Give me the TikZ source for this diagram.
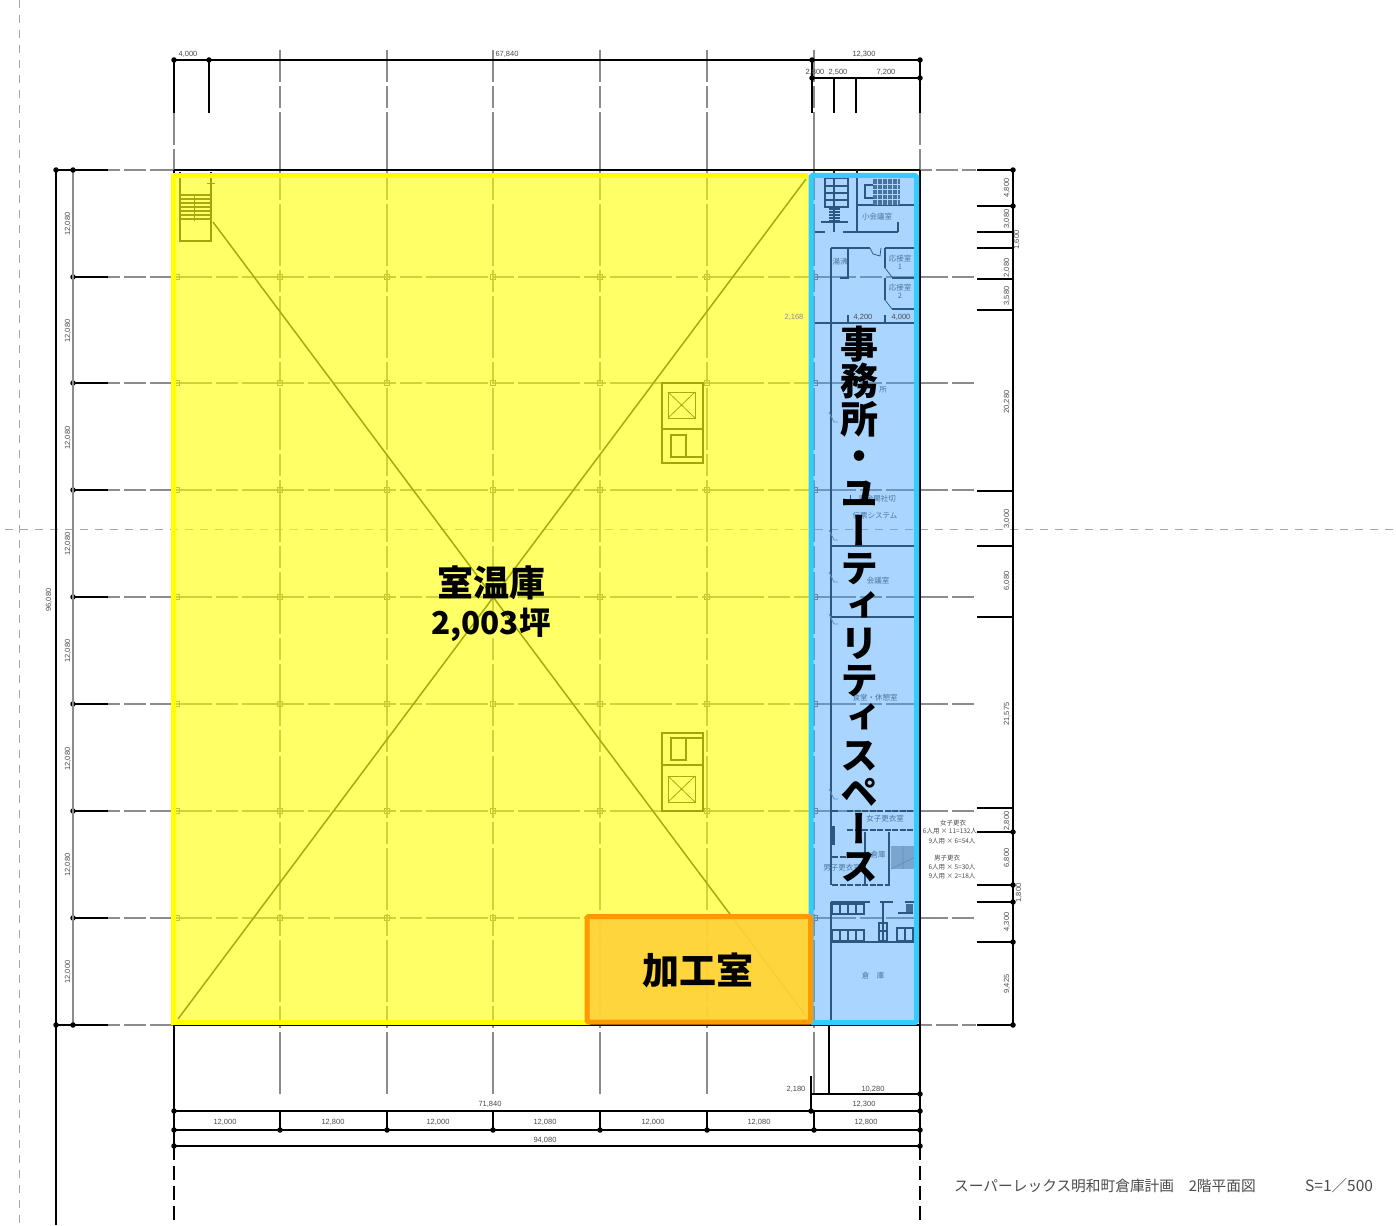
\documentclass[tikz,border=0pt]{standalone}
\usepackage{fontspec}
\setmainfont{Noto Sans CJK JP}
\newfontfamily\cjkv[RawFeature={+vert}]{Noto Sans CJK JP}
\newfontfamily\latn{Liberation Sans}
\definecolor{dimtext}{gray}{0.3}
\definecolor{gridg}{gray}{0.55}
\definecolor{yellowfill}{RGB}{255,255,0}
\definecolor{bluefill}{RGB}{67,164,255}
\definecolor{blueedge}{RGB}{51,204,255}
\definecolor{orangeedge}{RGB}{255,153,0}
\definecolor{orangefill}{RGB}{255,210,60}
\tikzset{
  dimline/.style={black,line width=1.5pt},
  colgrid/.style={gridg,line width=1.2pt,dash pattern=on 62pt off 4pt on 22pt off 4pt,dash phase=30pt},
  rowgrid/.style={gridg,line width=1.2pt,dash pattern=on 62pt off 4pt on 22pt off 4pt,dash phase=50pt},
  centerline/.style={gray!70,line width=1pt,dash pattern=on 8pt off 7pt},
  wall/.style={black!90,line width=1.4pt},
  thinwall/.style={black!85,line width=0.8pt},
  dimdot/.style={black,fill=black,circle,inner sep=0pt,minimum size=5.5pt},
  gridmark/.style={black!55,line width=0.8pt},
  dimlabel/.style={text=dimtext,inner sep=0pt,font=\latn\fontsize{7.5}{8}\selectfont},
  vdimlabel/.style={dimlabel,rotate=90},
  roomlabel/.style={text=dimtext,inner sep=0pt,font=\fontsize{7.5}{8}\selectfont},
  notelabel/.style={text=dimtext,inner sep=0pt,font=\fontsize{6.5}{7}\selectfont},
  mainlabel/.style={text=black,inner sep=0pt,align=center,font=\bfseries\fontsize{36}{40}\selectfont},
}
\begin{document}
\begin{tikzpicture}[x=1pt,y=-1pt]
\useasboundingbox (0,0) rectangle (1396,1225);
\fill[white] (0,0) rectangle (1396,1225);
% centre lines
\draw[centerline] (5,529) -- (1396,529);
\draw[centerline] (19,0) -- (19,1225);
% grid columns
\foreach \x in {280,387,493,600,707,814}{
  \draw[colgrid] (\x,50) -- (\x,1095);
}
\draw[colgrid] (174,113) -- (174,170);
\draw[colgrid] (920,113) -- (920,170);
% grid rows
\foreach \y in {277,383,490,597,704,811,918}{
  \draw[rowgrid] (108,\y) -- (976,\y);
}
\foreach \y in {277,383,490,597,704,811,918}{
  \draw[dimline] (73,\y) -- (108,\y);
  \node[dimdot] (ld\y) at (73,\y) {};
  \foreach \x in {280,387,493,600,707}{
    \draw[gridmark] (\x-2.5,\y-2.5) rectangle (\x+2.5,\y+2.5);
  }
  \draw[gridmark] (174,\y-2.5) rectangle (179,\y+2.5);
  \draw[gridmark] (812,\y-2.5) rectangle (817,\y+2.5);
}
% outer frame
\draw[dimline] (56,170) -- (108,170);
\draw[dimline] (56,1025) -- (108,1025);
\draw[rowgrid] (108,170) -- (174,170);
\draw[rowgrid] (108,1025) -- (174,1025);
\draw[dimline] (174,170) -- (920,170);
\draw[dimline] (174,1025) -- (920,1025);
\draw[rowgrid] (920,170) -- (976,170);
\draw[rowgrid] (920,1025) -- (976,1025);
\draw[dimline,line width=1.6pt] (920,60) -- (920,113);
\draw[dimline] (920,170) -- (920,1146);
\draw[dimline] (174,60) -- (174,113);
\draw[dimline] (174,170) -- (174,1146);
\draw[dimline,dash pattern=on 14pt off 6pt] (174,1146) -- (174,1225);
\draw[dimline,dash pattern=on 14pt off 6pt] (920,1146) -- (920,1225);
% left dimensions
\draw[dimline] (56,170) -- (56,1225);
\draw[black!45,line width=2pt] (73,170) -- (73,1025);
\node[dimdot] (ltl) at (56,170) {};
\node[dimdot] (lt2) at (73,170) {};
\node[dimdot] (lbl) at (56,1025) {};
\node[dimdot] (lb2) at (73,1025) {};
% top dimensions
\draw[dimline] (174,60) -- (920,60);
\draw[dimline] (812,78) -- (920,78);
\draw[dimline] (209,60) -- (209,113);
\draw[dimline] (812,60) -- (812,113);
\draw[dimline] (834,78) -- (834,113);
\draw[dimline] (856,78) -- (856,113);
\foreach \n/\x/\y in {a/174/60,b/209/60,c/812/60,d/920/60,e/812/78,f/920/78}{
  \node[dimdot] (top\n) at (\x,\y) {};
}
% right dimensions
\draw[dimline] (1013,170) -- (1013,1025);
\foreach \y in {170,206,232,248,279,310,491,546,617,808,832,885,902,942,1025}{
  \draw[dimline] (977,\y) -- (1013,\y);
}
\foreach \y in {170,206,832,885,902,942,1025}{
  \node[dimdot] (rd\y) at (1013,\y) {};
}
% bottom dimensions
\draw[dimline] (174,1111) -- (920,1111);
\draw[dimline] (174,1130) -- (920,1130);
\draw[dimline] (174,1146) -- (920,1146);
\draw[dimline] (811,1094) -- (920,1094);
\draw[dimline] (811,1076) -- (811,1111);
\draw[dimline] (829,1025) -- (829,1094);
\foreach \x in {280,387,493,600,707,814}{
  \draw[dimline] (\x,1111) -- (\x,1130);
  \node[dimdot] (bd\x) at (\x,1130) {};
}
\foreach \n/\x/\y in {a/174/1111,b/174/1130,c/174/1146,d/920/1094,e/920/1111,f/920/1130,g/920/1146,h/811/1111}{
  \node[dimdot] (bot\n) at (\x,\y) {};
}
% big X
\draw[black!85,line width=1.5pt] (178,1019) -- (806,179);
\draw[black!85,line width=1.5pt] (213,222) -- (809,1020);
% stairs top left
\draw[wall] (180,172) -- (180,241) -- (211,241) -- (211,172);
\foreach \y in {195,199,203,207,211,215,219}{\draw[thinwall,line width=1.4pt] (180,\y) -- (211,\y);}
\draw[thinwall] (194,195) -- (194,221);
\draw[thinwall] (207,183) -- (215,183);
% elevators
\draw[wall,line width=1.7pt] (662,383) rectangle (703,463);
\draw[wall,line width=1.7pt] (662,429) -- (703,429);
\draw[thinwall] (668,392) rectangle (695,418);
\draw[thinwall] (668,392) -- (695,418) (668,418) -- (695,392);
\draw[wall,line width=2.4pt] (671,435) rectangle (686,457);
\draw[wall] (686,457) -- (703,457);
\draw[wall,line width=1.7pt] (662,733) rectangle (703,811);
\draw[wall,line width=1.7pt] (662,765) -- (703,765);
\draw[thinwall] (668,776) rectangle (695,802);
\draw[thinwall] (668,776) -- (695,802) (668,802) -- (695,776);
\draw[wall,line width=2.4pt] (671,738) rectangle (686,760);
\draw[wall] (686,738) -- (703,738);
% office plan: top
\draw[wall] (834,170) -- (834,232);
\draw[wall] (825,178) rectangle (848,207);
\foreach \y in {186,193,200}{\draw[wall] (825,\y) -- (848,\y);}
\foreach \y in {209,212,215,218,221}{\draw[wall] (829,\y) -- (840,\y);}
\draw[wall] (821,222) -- (848,222);
\draw[wall] (815,232) -- (825,232) (843,232) -- (898,232);
\draw[wall] (857,170) -- (857,232);
\draw[wall] (857,205) -- (918,205);
\draw[wall] (898,222) -- (898,232);
\draw[wall] (873,185) -- (865,185) -- (865,198) -- (873,198);
\fill[black!70] (873,179) rectangle (900,205);
\foreach \x in {877,882,887,892,897}{\draw[white,line width=0.5pt] (\x,179) -- (\x,205);}
\foreach \y in {184,189,194,199}{\draw[white,line width=0.5pt] (873,\y) -- (900,\y);}
% rooms
\draw[wall] (831,248) -- (831,885);
\draw[wall] (831,902) -- (831,1023);
\draw[wall] (831,248) -- (870,248) (885,248) -- (918,248);
\draw[thinwall] (870,248) -- (873,254) -- (880,256) -- (881,248);
\draw[wall] (848,248) -- (848,278) -- (840,278);
\draw[wall] (885,248) -- (885,268);
\draw[thinwall] (885,268) -- (892,277);
\draw[wall] (892,278) -- (918,278);
\draw[wall] (885,278) -- (885,300);
\draw[thinwall] (885,300) -- (892,309);
\draw[wall] (892,309) -- (918,309);
\draw[wall] (815,323) -- (918,323);
\draw[wall] (848,315) -- (848,323);
\draw[wall] (885,315) -- (885,323);
\draw[thinwall] (850,503) -- (850,495);
\draw[thinwall] (850,503) -- (860,503);
\draw[wall] (831,546) -- (918,546);
\draw[wall] (831,617) -- (918,617);
% door symbols
\foreach \y in {418,536,578,620,795}{
  \draw[thinwall,black!50] (829,\y-6) -- (834,\y+4) -- (838,\y+4);
}
% lockers
\draw[wall,line width=2pt,dash pattern=on 6pt off 1.5pt] (847,811) -- (915,811);
\draw[wall,line width=2pt,dash pattern=on 6pt off 1.5pt] (847,830) -- (915,830);
\draw[wall,line width=4pt] (833,826) -- (833,845);
\draw[wall] (831,811) -- (838,811);
\draw[wall] (865,832) -- (865,885) (889,832) -- (889,885);
\draw[wall,line width=2pt,dash pattern=on 6pt off 1.5pt] (832,857) -- (863,857);
\draw[wall,line width=2pt,dash pattern=on 6pt off 1.5pt] (832,885) -- (890,885);
\fill[black!35] (891,846) rectangle (915,869);
\draw[thinwall,black!50] (903,846) -- (903,869) (891,869) -- (915,857);
% toilets
\draw[wall] (831,902) -- (870,902) (880,902) -- (893,902) (905,902) -- (915,902);
\draw[wall] (883,902) -- (883,942);
\draw[wall,line width=1.8pt] (831,942) -- (915,942);
\foreach \x in {832,840,848,856}{
  \draw[wall] (\x,904) rectangle (\x+8,914);
  \draw[wall] (\x,930) rectangle (\x+8,941);
}
\draw[wall] (879,923) rectangle (887,941);
\draw[wall] (879,931) -- (887,931);
\draw[wall] (897,928) rectangle (905,941);
\draw[wall] (905,928) rectangle (913,941);
\draw[wall] (898,913) -- (913,913);
\fill[black!75] (906,904) rectangle (913,912);
% room labels
\node[roomlabel] (rm1) at (877,217) {小会議室};
\node[roomlabel] (rm2) at (840,262) {湯沸};
\node[roomlabel,align=center] (rm3) at (900,262) {応接室\\1};
\node[roomlabel,align=center] (rm4) at (900,291) {応接室\\2};
\node[roomlabel] (rm5) at (883,390) {所};
\node[roomlabel] (rm6) at (877,499) {資金関社切};
\node[roomlabel] (rm7) at (875,516) {伝票システム};
\node[roomlabel] (rm8) at (878,581) {会議室};
\node[roomlabel] (rm9) at (875,698) {食堂・休憩室};
\node[roomlabel] (rm10) at (885,819) {女子更衣室};
\node[roomlabel] (rm11) at (878,855) {倉庫};
\node[roomlabel] (rm12) at (842,868) {男子更衣室};
\node[roomlabel] (rm13) at (873,976) {倉　庫};
% colour overlays
\fill[yellowfill,fill opacity=0.6] (173,175.5) rectangle (811,1022.5);
\fill[bluefill,fill opacity=0.45] (811,175.5) rectangle (916.5,1022.5);
\fill[orangefill,fill opacity=0.93] (587,916.5) rectangle (811,1022);
\draw[yellowfill,line width=5pt] (171,175.5) -- (808,175.5);
\draw[yellowfill,line width=5pt] (173,173) -- (173,1025);
\draw[yellowfill,line width=5pt] (171,1022.5) -- (590,1022.5);
\draw[blueedge,line width=5pt,rounded corners=1.5pt] (811,175.5) rectangle (916.5,1022.5);
\draw[orangeedge,line width=5pt,rounded corners=1.5pt] (587,916.5) rectangle (810.5,1022);
% labels over colour
\node[dimlabel,text=gridg] (l2168) at (794,317) {2,168};
\node[dimlabel] (l4200) at (863,317) {4,200};
\node[dimlabel] (l4000b) at (901,317) {4,000};
\node[dimlabel] (t1) at (188,54) {4,000};
\node[dimlabel] (t2) at (507,54) {67,840};
\node[dimlabel] (t3) at (864,54) {12,300};
\node[dimlabel] (t4) at (815,72) {2,800};
\node[dimlabel] (t5) at (838,72) {2,500};
\node[dimlabel] (t6) at (886,72) {7,200};
\foreach \y/\t in {224/{12,080},331/{12,080},438/{12,080},544/{12,080},651/{12,080},759/{12,080},865/{12,080},972/{12,000}}{
  \node[vdimlabel] (lv\y) at (68,\y) {\t};
}
\node[vdimlabel] (l96) at (49,600) {96,080};
\foreach \y/\t in {188/{4,800},219/{3,080},268/{2,080},296/{3,580},402/{20,280},519/{3,000},581/{6,080},714/{21,575},821/{2,800},858/{6,800},922/{4,300},984/{9,425}}{
  \node[vdimlabel] (rv\y) at (1007,\y) {\t};
}
\node[vdimlabel] (rv16) at (1017,240) {1,600};
\node[vdimlabel] (rv18) at (1019,893) {1,800};
\foreach \x/\t in {225/{12,000},333/{12,800},438/{12,000},545/{12,080},653/{12,000},759/{12,080},866/{12,800}}{
  \node[dimlabel] (bl\x) at (\x,1122) {\t};
}
\node[dimlabel] (b1) at (490,1104) {71,840};
\node[dimlabel] (b2) at (864,1104) {12,300};
\node[dimlabel] (b3) at (545,1140) {94,080};
\node[dimlabel] (b4) at (796,1089) {2,180};
\node[dimlabel] (b5) at (873,1089) {10,280};
% locker notes
\node[notelabel] (n1) at (953,823) {女子更衣};
\node[notelabel] (n2) at (950,831) {6人用 × 11=132人};
\node[notelabel] (n3) at (952,841) {9人用 × 6=54人};
\node[notelabel] (n4) at (947,858) {男子更衣};
\node[notelabel] (n5) at (952,867) {6人用 × 5=30人};
\node[notelabel] (n6) at (952,876) {9人用 × 2=18人};
% title
\node[text=dimtext,anchor=west,inner sep=0pt,font=\fontsize{14.7}{16}\selectfont] (title) at (954,1186) {スーパーレックス明和町倉庫計画　2階平面図};
\node[text=dimtext,anchor=west,inner sep=0pt,font=\fontsize{15.5}{17}\selectfont] (scale) at (1305,1186) {S=1／500};
% main labels
\node[mainlabel] (m1) at (491,583) {室温庫};
\node[mainlabel,font=\bfseries\fontsize{31.5}{36}\selectfont] (m2) at (491,625) {2,003坪};
\node[mainlabel,font=\bfseries\fontsize{37}{40}\selectfont] (m3) at (698,970) {加工室};
\node[mainlabel,font=\cjkv\bfseries\fontsize{38}{37.3}\selectfont,anchor=north] (m4) at (859,326) {事\\務\\所\\・\\ユ\\ー\\テ\\ィ\\リ\\テ\\ィ\\ス\\ペ\\ー\\ス};
\end{tikzpicture}
\end{document}
